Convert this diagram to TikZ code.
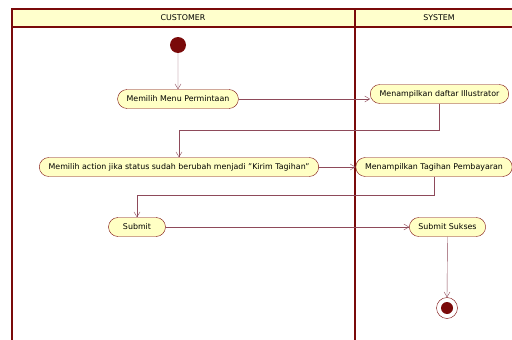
\documentclass[tikz,border=0pt]{standalone}
\usepackage{fontspec}
\setmainfont{DejaVu Sans}
\usetikzlibrary{shapes.misc, arrows.meta}
\definecolor{lanered}{HTML}{7A0A0A}
\definecolor{flowred}{HTML}{8E4A5A}
\definecolor{actfill}{HTML}{FFFFC4}
\definecolor{headfill}{HTML}{FFFFCC}
\tikzset{
	action/.style = {rounded rectangle, draw = lanered, fill = actfill, font = \fontsize{7.9}{9}\selectfont, inner xsep = 8.5pt, minimum height = 19pt},
	flow/.style = {draw = flowred, -{Straight Barb[length = 5pt, width = 6pt]}},
}
\begin{document}
\begin{tikzpicture}[x = 1pt, y = -1pt]
					\useasboundingbox (0, 0) rectangle (512, 340);
					\fill[white] (0, 0) rectangle (512, 340);
						\filldraw[fill = headfill, draw = lanered, line width = 1.2pt] (12, 9) rectangle (514, 27);
						\draw[lanered, line width = 1.2pt] (12, 27) -- (12, 342);
						\draw[lanered, line width = 2.6pt] (355, 9) -- (355, 342);
						\node[font = \fontsize{7.9}{9}\selectfont] (cust) at (183, 18) {CUSTOMER};
						\node[font = \fontsize{7.9}{9}\selectfont] (sys) at (439, 18) {SYSTEM};
					\node[circle, fill = lanered, minimum size = 16pt, inner sep = 0pt] (start) at (178, 45) {};
						\node[action] (menu) at (178, 99) {Memilih Menu Permintaan};
						\node[action] (daftar) at (439.5, 94) {Menampilkan daftar Illustrator};
						\node[action] (pilih) at (179, 167) {Memilih action jika status sudah berubah menjadi "Kirim Tagihan"};
						\node[action] (tagihan) at (434, 167) {Menampilkan Tagihan Pembayaran};
						\node[action, minimum width = 74pt] (submit) at (137, 227) {Submit};
						\node[action] (sukses) at (447.5, 227) {Submit Sukses};
					\node[circle, draw = lanered, minimum size = 21pt, inner sep = 0pt] (finish) at (447, 308) {};
						\fill[lanered] (finish.center) circle (6);
						\draw[flow] (start) -- (menu);
						\draw[flow] (menu.east) -- (menu.east -| daftar.west);
						\draw[flow] (daftar.south) -- ++(0, 26) -| (pilih.north);
						\draw[flow] (pilih.east) -- (pilih.east -| tagihan.west);
						\draw[flow] (tagihan.south) -- ++(0, 18) -| (submit.north);
						\draw[flow] (submit.east) -- (submit.east -| sukses.west);
						\draw[flow] (sukses.south) -- (finish.north);
				\end{tikzpicture}
\end{document}
